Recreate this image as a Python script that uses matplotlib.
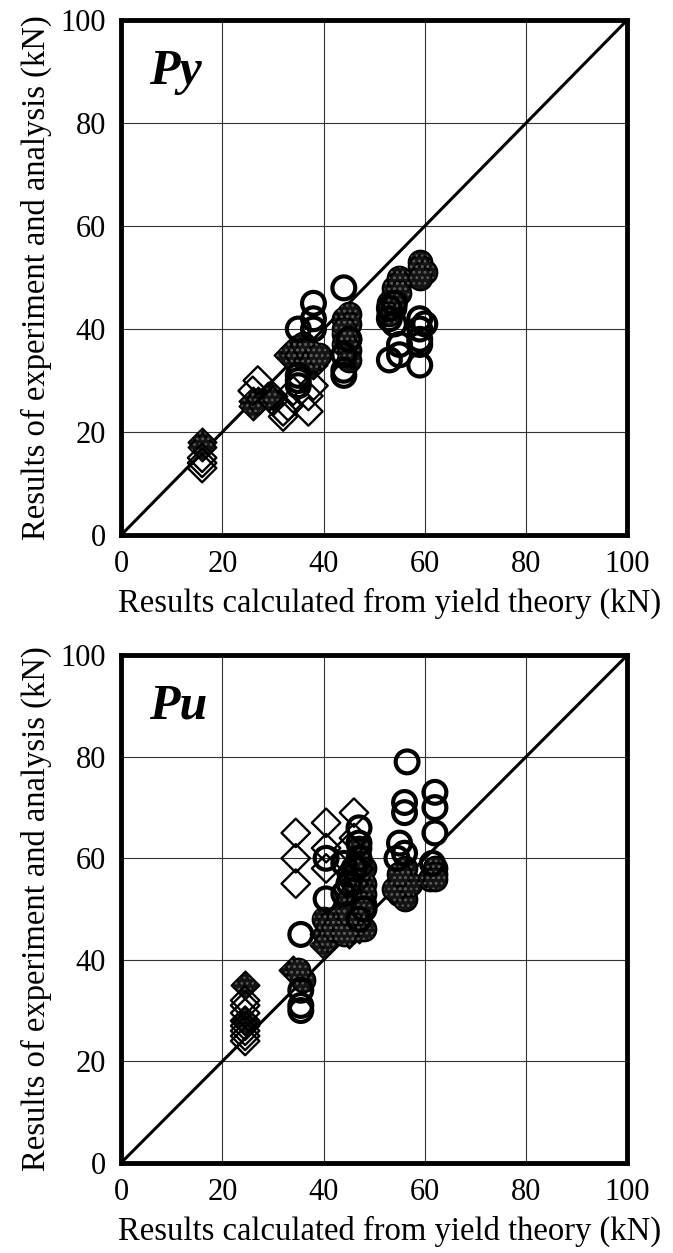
import numpy as np
import matplotlib.pyplot as plt

plt.rcParams['font.family'] = ['Liberation Serif', 'DejaVu Serif']
plt.rcParams['hatch.linewidth'] = 1.0

# ── Py panel data (x: yield theory, y: experiment/analysis) ──────────────────
py_fd_x = [16, 16, 26, 26, 27, 29, 30, 33, 34, 35, 36, 37, 38, 38]
py_fd_y = [18, 17, 26, 25, 26, 27, 27, 35, 36, 35, 37, 34, 35, 33]
py_od_x = [16, 16, 16, 26, 27, 30, 32, 32, 33, 37, 37, 38, 34]
py_od_y = [15, 14, 13, 28, 30, 26, 24, 23, 25, 24, 27, 29, 28]
py_oc_x = [35, 35, 35, 35, 38, 38, 38, 44, 44, 44, 44, 45, 53, 53, 54, 53,
           55, 55, 54, 59, 59, 59, 59, 59, 60]
py_oc_y = [40, 31, 30, 29, 45, 42, 40, 48, 31, 32, 35, 38, 34, 42, 41, 44,
           35, 37, 45, 33, 37, 38, 40, 42, 41]
py_fc_x = [36, 37, 38, 39, 44, 45, 45, 44, 45, 44, 45, 53, 54, 54, 55, 55,
           54, 59, 59, 60, 59, 53, 55, 44, 45]
py_fc_y = [37, 36, 34, 35, 42, 43, 41, 39, 38, 37, 36, 45, 47, 48, 50, 49,
           44, 53, 52, 51, 50, 43, 47, 40, 34]

# ── Pu panel data ─────────────────────────────────────────────────────────────
pu_fd_x = [24.5, 24.5, 34, 35, 40, 40, 41, 42, 45, 46, 47, 44]
pu_fd_y = [35, 28, 38, 37, 43, 45, 44, 46, 45, 46, 46, 47]
pu_od_x = [24.5, 24.5, 24.5, 24.5, 24.5, 24.5, 24.5, 24.5, 34.5, 34.5, 34.5,
           40.5, 40.5, 40.5, 46, 46, 45, 47, 46]
pu_od_y = [32, 31, 29.5, 28, 27, 26, 25, 24, 65, 60, 55, 67, 62, 58, 69, 64,
           62, 58, 55]
pu_oc_x = [35.5, 35.5, 35.5, 35.5, 40.5, 40.5, 44, 44, 47, 47, 47, 46, 45,
           56.5, 56, 56, 55, 56, 54.5, 62, 62, 62, 61.5, 48, 47]
pu_oc_y = [45, 34, 31, 30, 60, 52, 59, 53, 66, 63, 60, 58, 55, 79, 71, 69,
           63, 61, 60, 73, 70, 65, 59, 50, 48]
pu_fc_x = [36, 35, 40, 41, 42, 43, 44, 45, 46, 47, 48, 46, 47, 48, 45, 46,
           47, 48, 45, 47, 55, 55, 56, 56, 54, 56, 57, 55, 62, 62, 61, 62,
           44, 46, 48, 47, 45, 48]
pu_fc_y = [36, 38, 48, 47, 46, 48, 50, 52, 54, 56, 55, 50, 48, 46, 46, 47,
           52, 53, 57, 60, 55, 53, 52, 56, 54, 58, 55, 57, 58, 57, 56, 56,
           45, 49, 58, 62, 49, 51]

TICKS = [0, 20, 40, 60, 80, 100]
FS_TICK = 22
FS_LABEL = 23.5

fig = plt.figure(figsize=(6.73, 12.53), dpi=100)
ax_top = fig.add_axes([0.180, 0.573, 0.752, 0.411])
ax_bot = fig.add_axes([0.180, 0.072, 0.752, 0.405])

panels = [
    (ax_top, 'Py', py_fd_x, py_fd_y, py_od_x, py_od_y, py_oc_x, py_oc_y, py_fc_x, py_fc_y),
    (ax_bot, 'Pu', pu_fd_x, pu_fd_y, pu_od_x, pu_od_y, pu_oc_x, pu_oc_y, pu_fc_x, pu_fc_y),
]

for ax, name, fdx, fdy, odx, ody, ocx, ocy, fcx, fcy in panels:
    ax.set_xlim(0, 100)
    ax.set_ylim(0, 100)
    ax.set_xticks(TICKS)
    ax.set_yticks(TICKS)
    ax.grid(True, color='#333', lw=0.8, zorder=0)
    ax.set_axisbelow(True)
    ax.plot([0, 100], [0, 100], color='black', lw=2.2, zorder=2)

    # filled (stippled) markers
    ax.scatter(fdx, fdy, marker='D', s=210, facecolor='#141414',
               edgecolor='black', linewidths=1.2, zorder=3)
    ax.scatter(fdx, fdy, marker='D', s=160, facecolor='none',
               edgecolor='#5a5a5a', hatch='...', linewidths=0, zorder=3.1)
    ax.scatter(fcx, fcy, marker='o', s=290, facecolor='#141414',
               edgecolor='black', linewidths=1.5, zorder=3)
    ax.scatter(fcx, fcy, marker='o', s=230, facecolor='none',
               edgecolor='#5a5a5a', hatch='...', linewidths=0, zorder=3.1)

    # open markers
    ax.scatter(odx, ody, marker='D', s=210, facecolor='none',
               edgecolor='black', linewidths=1.7, zorder=4)
    ax.scatter(ocx, ocy, marker='o', s=270, facecolor='none',
               edgecolor='black', linewidths=3.0, zorder=4)

    for sp in ax.spines.values():
        sp.set_linewidth(3.5)
        sp.set_zorder(5)
    ax.tick_params(length=0, labelsize=FS_TICK, pad=11)
    ax.set_xlabel('Results calculated from yield theory (kN)',
                  fontsize=FS_LABEL, labelpad=6)
    ax.xaxis.label.set_x(0.53)
    ax.set_ylabel('Results of experiment and analysis (kN)',
                  fontsize=FS_LABEL, labelpad=6)
    ax.text(0.055, 0.875, name, transform=ax.transAxes, fontsize=36,
            fontweight='bold', fontstyle='italic', ha='left', va='baseline',
            zorder=6)

fig.savefig('out.png', dpi=100)
